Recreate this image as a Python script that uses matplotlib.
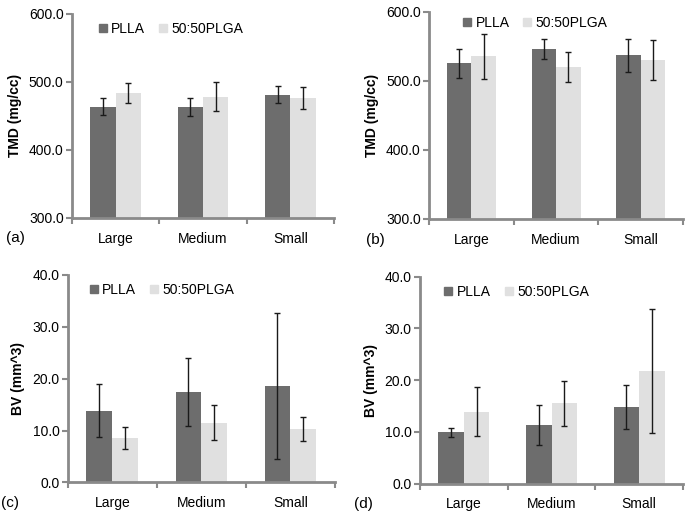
import matplotlib
matplotlib.use('Agg')
import matplotlib.pyplot as plt
import numpy as np
from matplotlib.lines import Line2D

plt.rcParams['font.family'] = ['Liberation Sans', 'DejaVu Sans']

categories = ['Large', 'Medium', 'Small']
series_names = ['PLLA', '50:50PLGA']

# (a) TMD
tmd_a_plla = [463, 463, 481]
tmd_a_plla_err = [12.5, 13, 12.5]
tmd_a_plga = [483, 478, 476]
tmd_a_plga_err = [14.5, 21.5, 16]

# (b) TMD
tmd_b_plla = [525, 546, 537]
tmd_b_plla_err = [21.5, 15, 24]
tmd_b_plga = [535, 520, 530]
tmd_b_plga_err = [32, 22, 29]

# (c) BV
bv_c_plla = [13.8, 17.4, 18.6]
bv_c_plla_err = [5.1, 6.6, 14.0]
bv_c_plga = [8.5, 11.5, 10.3]
bv_c_plga_err = [2.1, 3.35, 2.3]

# (d) BV
bv_d_plla = [9.9, 11.3, 14.8]
bv_d_plla_err = [0.9, 3.8, 4.3]
bv_d_plga = [13.9, 15.5, 21.8]
bv_d_plga_err = [4.8, 4.4, 12.0]

dark = '#6d6d6d'
light = '#e0e0e0'
spine_col = '#8a8a8a'

panels = [
    # rect, plla, plla_err, plga, plga_err, ylim, yticks, ylabel, tag, legend anchor
    ([0.103, 0.585, 0.375, 0.389], tmd_a_plla, tmd_a_plla_err, tmd_a_plga, tmd_a_plga_err,
     (300, 600), [300, 400, 500, 600], 'TMD (mg/cc)', '(a)', (0.07, 1.0)),
    ([0.614, 0.583, 0.363, 0.395], tmd_b_plla, tmd_b_plla_err, tmd_b_plga, tmd_b_plga_err,
     (300, 600), [300, 400, 500, 600], 'TMD (mg/cc)', '(b)', (0.1, 1.02)),
    ([0.097, 0.081, 0.382, 0.396], bv_c_plla, bv_c_plla_err, bv_c_plga, bv_c_plga_err,
     (0, 40), [0, 10, 20, 30, 40], 'BV (mm^3)', '(c)', (0.05, 1.0)),
    ([0.601, 0.079, 0.376, 0.394], bv_d_plla, bv_d_plla_err, bv_d_plga, bv_d_plga_err,
     (0, 40), [0, 10, 20, 30, 40], 'BV (mm^3)', '(d)', (0.06, 1.0)),
]

fig = plt.figure(figsize=(6.99, 5.25), dpi=100)
x = np.arange(len(categories))
w = 0.29
fs = 10

for rect, p1, e1, p2, e2, ylim, yticks, ylabel, tag, anchor in panels:
    ax = fig.add_axes(rect)
    ax.bar(x - w / 2, p1, w, color=dark, yerr=e1, capsize=2.5,
           error_kw=dict(ecolor='#1a1a1a', elinewidth=1, capthick=1))
    ax.bar(x + w / 2, p2, w, color=light, yerr=e2, capsize=2.5,
           error_kw=dict(ecolor='#1a1a1a', elinewidth=1, capthick=1))
    ax.set_xlim(-0.5, 2.5)
    ax.set_ylim(*ylim)
    ax.set_yticks(yticks)
    ax.set_yticklabels([f'{v:.1f}' for v in yticks], fontsize=fs)
    ax.set_xticks(x)
    ax.set_xticklabels(categories, fontsize=fs)
    ax.tick_params(axis='x', length=0, pad=10)
    ax.set_xticks([-0.5, 0.5, 1.5, 2.5], minor=True)
    ax.tick_params(axis='x', which='minor', length=4, width=1.5, color=spine_col)
    ax.tick_params(axis='y', length=4, width=1.5, color=spine_col, pad=2)
    for s in ['top', 'right']:
        ax.spines[s].set_visible(False)
    for s in ['left', 'bottom']:
        ax.spines[s].set_color(spine_col)
        ax.spines[s].set_linewidth(2)
    ax.set_ylabel(ylabel, fontsize=fs, fontweight='bold', labelpad=5)
    ax.text(-0.25, -0.1, tag, transform=ax.transAxes, fontsize=11, va='center')
    handles = [Line2D([], [], marker='s', ls='', color=dark, markersize=6),
               Line2D([], [], marker='s', ls='', color=light, markersize=6)]
    ax.legend(handles, series_names, loc='upper left', bbox_to_anchor=anchor,
              ncol=2, frameon=False, fontsize=fs, handlelength=0.6,
              handletextpad=0.3, columnspacing=1.0, borderaxespad=0.2)

fig.savefig('out.png', dpi=100)
